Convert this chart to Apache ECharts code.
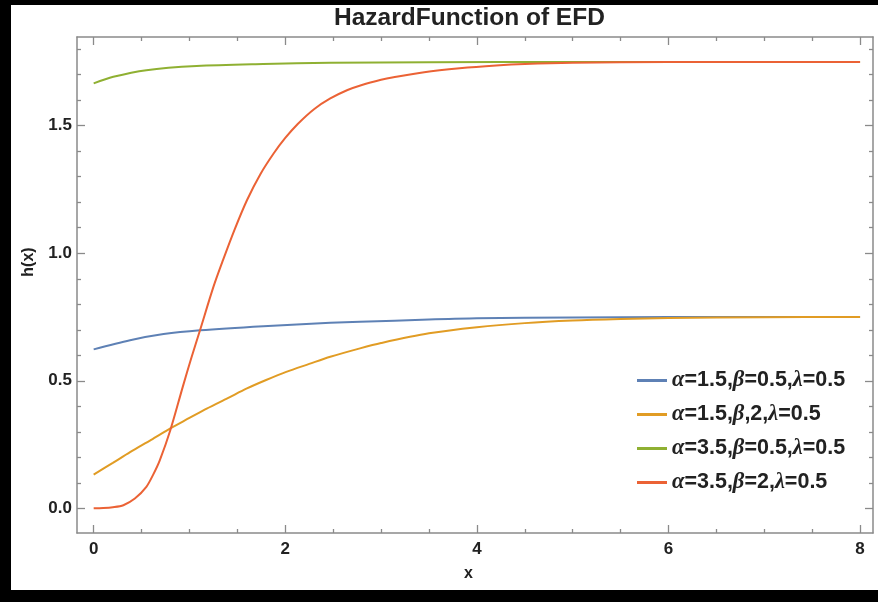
<!DOCTYPE html>
<html>
<head>
<meta charset="utf-8">
<script src="https://cdn.jsdelivr.net/npm/echarts@6/dist/echarts.min.js"></script>
<style>html,body{margin:0;padding:0;background:#fff;}#c{width:878px;height:602px;}</style>
</head>
<body>
<div id="c"></div>
<script>
// ---- data ----
const seriesNames = [
  'α=1.5,β=0.5,λ=0.5',
  'α=1.5,β,2,λ=0.5',
  'α=3.5,β=0.5,λ=0.5',
  'α=3.5,β=2,λ=0.5'
];
const blueX = [0, 0.38, 0.73, 1.11, 1.77, 2.47, 2.78, 3.5, 4, 5, 6, 7, 8];
const blueY = [0.623, 0.659, 0.683, 0.698, 0.714, 0.727, 0.731, 0.740, 0.745, 0.748, 0.750, 0.750, 0.750];
const orangeX = [0, 0.2, 0.38, 0.6, 0.80, 1.0, 1.18, 1.40, 1.60, 1.80, 2.01, 2.25, 2.47, 2.78, 3.0, 3.5, 4, 4.5, 5, 5.5, 6, 7, 8];
const orangeY = [0.132, 0.178, 0.220, 0.268, 0.313, 0.354, 0.391, 0.432, 0.470, 0.503, 0.535, 0.566, 0.594, 0.627, 0.648, 0.686, 0.710, 0.726, 0.736, 0.742, 0.746, 0.749, 0.750];
const greenX = [0, 0.205, 0.55, 1.075, 1.77, 2.47, 3.5, 5, 8];
const greenY = [1.666, 1.692, 1.718, 1.734, 1.742, 1.747, 1.749, 1.750, 1.750];
const redX = [0, 0.1, 0.2, 0.31, 0.43, 0.55, 0.62, 0.69, 0.80, 0.93, 1.02, 1.11, 1.25, 1.35, 1.47, 1.60, 1.74, 1.88, 2.0, 2.13, 2.3, 2.47, 2.65, 2.8, 3.0, 3.13, 3.45, 3.82, 4.2, 4.5, 5, 6, 8];
const redY = [0.0, 0.001, 0.004, 0.012, 0.038, 0.084, 0.131, 0.188, 0.306, 0.476, 0.590, 0.698, 0.868, 0.973, 1.092, 1.208, 1.310, 1.392, 1.452, 1.507, 1.565, 1.607, 1.640, 1.660, 1.680, 1.690, 1.710, 1.725, 1.736, 1.742, 1.747, 1.750, 1.750];
const xMajorTicks = [0, 2, 4, 6, 8];
const xMinorTicks = [0.5, 1, 1.5, 2.5, 3, 3.5, 4.5, 5, 5.5, 6.5, 7, 7.5];
const yMajorTicks = [0, 0.5, 1.0, 1.5];
const yMinorTicks = [0.1, 0.2, 0.3, 0.4, 0.6, 0.7, 0.8, 0.9, 1.1, 1.2, 1.3, 1.4, 1.6, 1.7, 1.8];

const colors = ['#5E81B5', '#E19C24', '#8FB032', '#EB6235'];
const pairs = (xs, ys) => xs.map((x, i) => [x, ys[i]]);
const seriesData = [pairs(blueX, blueY), pairs(orangeX, orangeY), pairs(greenX, greenY), pairs(redX, redY)];

const frameColor = '#8a8a8a';
const X_MIN = -0.174, X_MAX = 8.135, Y_MIN = -0.097, Y_MAX = 1.848;
const labelFont = {fontFamily: 'Liberation Sans, Arial, sans-serif', fontWeight: 'bold', fontSize: 17, color: '#222'};

function xAx(pos, values, len, labels, showLine) {
  return {
    type: 'value', position: pos, min: X_MIN, max: X_MAX, gridIndex: 0,
    axisLine: {show: showLine, onZero: false, lineStyle: {color: frameColor, width: 1.5}},
    axisTick: {show: true, inside: true, length: len, customValues: values, lineStyle: {color: frameColor, width: 1.3}},
    axisLabel: labels ? Object.assign({show: true, customValues: values, margin: 8, formatter: v => String(v)}, labelFont) : {show: false},
    splitLine: {show: false}
  };
}
function yAx(pos, values, len, labels, showLine) {
  return {
    type: 'value', position: pos, min: Y_MIN, max: Y_MAX, gridIndex: 0,
    axisLine: {show: showLine, onZero: false, lineStyle: {color: frameColor, width: 1.5}},
    axisTick: {show: true, inside: true, length: len, customValues: values, lineStyle: {color: frameColor, width: 1.3}},
    axisLabel: labels ? Object.assign({show: true, customValues: values, margin: 5, formatter: v => v.toFixed(1)}, labelFont) : {show: false},
    splitLine: {show: false}
  };
}

const chart = echarts.init(document.getElementById('c'), null, {renderer: 'canvas'});
chart.setOption({
  backgroundColor: '#fff',
  animation: false,
  grid: {left: 77, top: 37, width: 796, height: 496},
  xAxis: [
    xAx('bottom', xMajorTicks, 8, true, true),
    xAx('bottom', xMinorTicks, 4, false, false),
    xAx('top', xMajorTicks, 8, false, true),
    xAx('top', xMinorTicks, 4, false, false)
  ],
  yAxis: [
    yAx('left', yMajorTicks, 8, true, true),
    yAx('left', yMinorTicks, 4, false, false),
    yAx('right', yMajorTicks, 8, false, true),
    yAx('right', yMinorTicks, 4, false, false)
  ],
  legend: {
    orient: 'vertical', left: 632, top: 364, itemWidth: 30, itemHeight: 3, itemGap: 11,
    icon: 'rect',
    data: seriesNames,
    formatter: n => n.replace(/([αβλ])/g, '{g|$1}'),
    textStyle: {
      fontFamily: 'Liberation Sans, Arial, sans-serif', fontWeight: 'bold', fontSize: 21.5, color: '#222',
      rich: {g: {fontFamily: 'Liberation Serif, serif', fontStyle: 'italic', fontWeight: 'bold', fontSize: 22.5, color: '#222'}}
    }
  },
  series: seriesNames.map((n, i) => ({
    name: n, type: 'line', xAxisIndex: 0, yAxisIndex: 0,
    data: seriesData[i], smooth: 0.3, showSymbol: false, symbol: 'none',
    color: colors[i],
    lineStyle: {color: colors[i], width: 2},
    z: 3
  })),
  graphic: [
    {type: 'text', left: 334, top: 6, style: {text: 'HazardFunction of EFD', fontFamily: 'Liberation Sans, Arial, sans-serif', fontWeight: 'bold', fontSize: 24.5, fill: '#222'}},
    {type: 'text', left: 464, top: 566, style: {text: 'x', fontFamily: 'Liberation Sans, Arial, sans-serif', fontWeight: 'bold', fontSize: 16, fill: '#222'}},
    {type: 'text', x: 37, y: 262, rotation: Math.PI / 2, style: {text: 'h(x)', align: 'center', verticalAlign: 'bottom', fontFamily: 'Liberation Sans, Arial, sans-serif', fontWeight: 'bold', fontSize: 16, fill: '#222'}},
    {type: 'rect', shape: {x: 0, y: 0, width: 878, height: 5}, style: {fill: '#000'}, z: 100},
    {type: 'rect', shape: {x: 0, y: 0, width: 11, height: 602}, style: {fill: '#000'}, z: 100},
    {type: 'rect', shape: {x: 0, y: 590, width: 878, height: 12}, style: {fill: '#000'}, z: 100}
  ]
});
</script>
</body>
</html>
